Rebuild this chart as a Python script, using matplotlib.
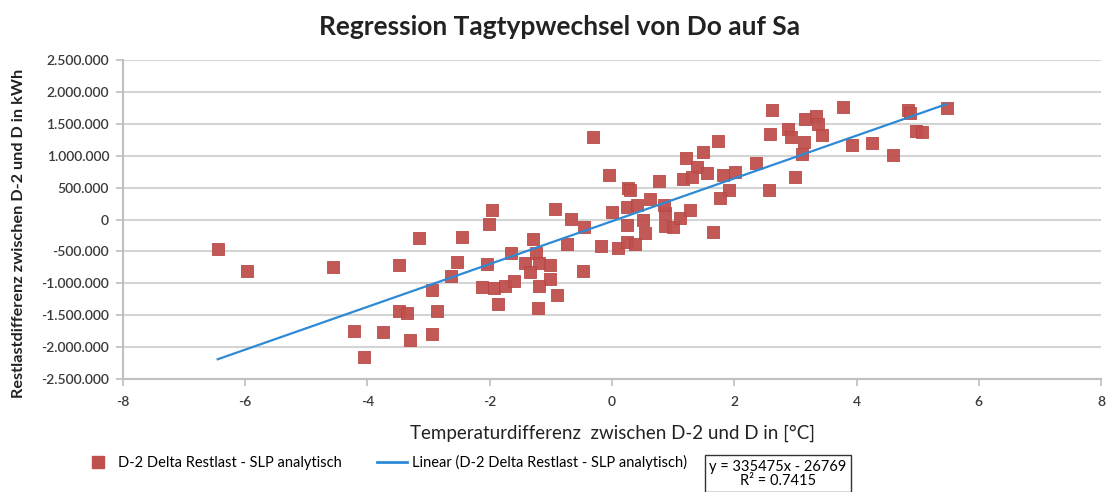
import numpy as np
import matplotlib
matplotlib.use("Agg")
import matplotlib.pyplot as plt
from matplotlib.lines import Line2D
from matplotlib.ticker import FuncFormatter

plt.rcParams['font.family'] = ['Lato', 'DejaVu Sans']
plt.rcParams['axes.unicode_minus'] = False

# temperature difference D-2 vs D [°C]
temp_diff = [-6.45, -5.97, -4.57, -4.22, -4.05, -3.75, -3.49, -3.49, -3.36, -3.31,
             -3.16, -2.94, -2.95, -2.87, -2.64, -2.54, -2.45, -2.12, -2.05, -2.02,
             -1.96, -1.93, -1.87, -1.75, -1.65, -1.60, -1.30, -1.42, -1.24, -1.19,
             -1.02, -1.34, -1.02, -1.19, -0.90, -1.21, -0.93, -0.67, -0.46, -0.74,
             -0.18, -0.47, -0.31, -0.05, 0.00, 0.25, 0.26, 0.29, 0.25, 0.41,
             0.62, 0.51, 0.54, 0.77, 0.87, 0.87, 1.00, 1.11, 1.28, 1.21,
             1.49, 1.73, 1.39, 1.55, 1.16, 1.31, 1.82, 2.01, 1.91, 1.77,
             1.65, 0.10, 0.25, 0.38, 0.85, 2.36, 2.57, 2.62, 2.59, 2.88,
             2.93, 3.16, 3.34, 3.37, 3.44, 3.14, 3.11, 2.99, 3.78, 3.93,
             4.26, 4.60, 4.84, 4.88, 4.98, 5.07, 5.48]
# residual load difference [thousand kWh]
load_diff = [-460, -815, -745, -1745, -2150, -1765, -720, -1440, -1470, -1890,
             -285, -1105, -1790, -1430, -880, -665, -270, -1055, -695, -65,
             145, -1075, -1325, -1050, -530, -960, -300, -680, -520, -680,
             -710, -830, -940, -1050, -1190, -1380, 170, 15, -110, -390,
             -420, -800, 1300, 700, 125, 190, 500, 470, -90, 220,
             315, 0, -205, 600, 95, -95, -110, 30, 155, 960,
             1055, 1225, 825, 730, 630, 660, 705, 750, 470, 330,
             -190, -440, -360, -390, 235, 880, 460, 1710, 1340, 1420,
             1290, 1570, 1620, 1490, 1320, 1210, 1020, 660, 1760, 1165,
             1195, 1010, 1715, 1670, 1385, 1370, 1745]
load_diff = [v * 1000 for v in load_diff]

slope = 335475
intercept = -26769
r2 = 0.7415

fig = plt.figure(figsize=(11.08, 4.92), dpi=100)
ax = fig.add_axes([0.111, 0.2297, 0.8827, 0.6483])

ax.grid(axis='y', color='#d4d4d4', linewidth=1.5, zorder=0)
ax.scatter(temp_diff, load_diff, marker='s', s=85, color='#c0504d',
           edgecolors='#b54643', linewidths=0.6, alpha=0.95, zorder=3)

x_line = np.array([min(temp_diff), max(temp_diff)])
ax.plot(x_line, slope * x_line + intercept, color='#2d8ad6', linewidth=1.6, zorder=4)

ax.set_xlim(-8, 8)
ax.set_ylim(-2500000, 2500000)
ax.set_xticks(range(-8, 9, 2))
ax.set_yticks(range(-2500000, 2500001, 500000))
ax.yaxis.set_major_formatter(FuncFormatter(lambda v, p: f"{int(v):,}".replace(",", ".")))

for s in ['top', 'right']:
    ax.spines[s].set_visible(False)
for s in ['left', 'bottom']:
    ax.spines[s].set_color('#bfbfbf')
    ax.spines[s].set_linewidth(1.5)
ax.tick_params(axis='both', colors='#bfbfbf', labelcolor='#3a3a3a', labelsize=10, width=1.2, length=5)
ax.tick_params(axis='x', pad=7)
ax.tick_params(axis='y', pad=5)
for lbl in ax.get_xticklabels() + ax.get_yticklabels():
    lbl.set_fontweight('semibold')

fig.text(0.505, 0.945, "Regression Tagtypwechsel von Do auf Sa", ha='center', va='center',
         fontsize=19, fontweight='bold', color='#222222')
ax.set_xlabel("Temperaturdifferenz  zwischen D-2 und D in [°C]", fontsize=13.5, color='#222222', labelpad=12)
fig.text(0.017, 0.526, "Restlastdifferenz zwischen D-2 und D in kWh", rotation=90, ha='center', va='center',
         fontsize=11.7, fontweight='bold', color='#222222')

handles = [Line2D([], [], marker='s', linestyle='none', color='#c0504d', markersize=8),
           Line2D([], [], color='#2d8ad6', linewidth=2)]
labels = ["D-2 Delta Restlast - SLP analytisch", "Linear (D-2 Delta Restlast - SLP analytisch)"]
fig.legend(handles, labels, loc='center left', bbox_to_anchor=(0.063, 0.06), ncol=2,
           frameon=False, fontsize=10.5, columnspacing=2.4, handlelength=2.1, handletextpad=0.3)

fig.text(0.702, 0.037, f"y = {slope}x - {abs(intercept)}\nR² = {r2}", ha='center', va='center',
         fontsize=10.5, linespacing=1.05, multialignment='center',
         bbox=dict(boxstyle='square,pad=0.3', facecolor='white', edgecolor='#333333', linewidth=1))

fig.savefig("out.png", dpi=100)
